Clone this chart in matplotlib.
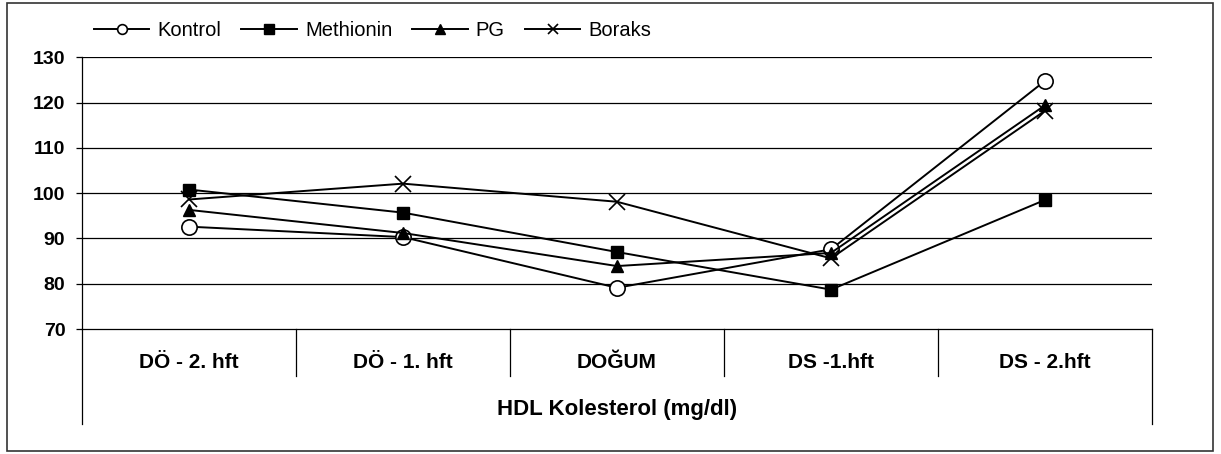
import numpy as np
import matplotlib
matplotlib.use("Agg")
from matplotlib import pyplot as plt
from matplotlib.patches import Rectangle
from matplotlib.transforms import blended_transform_factory

plt.rcParams['font.family'] = ['Liberation Sans', 'DejaVu Sans']

# zaman noktalari ve gruplar
categories = ["DÖ - 2. hft", "DÖ - 1. hft", "DOĞUM", "DS -1.hft", "DS - 2.hft"]
group_label = "HDL Kolesterol (mg/dl)"

kontrol = [92.6, 90.3, 79.1, 87.6, 124.8]
methionin = [100.8, 95.7, 87.0, 78.7, 98.5]
pg = [96.3, 91.2, 83.9, 86.8, 119.4]
boraks = [98.6, 102.1, 98.1, 85.6, 118.2]

W, H = 1221, 454
fig = plt.figure(figsize=(W / 100, H / 100), dpi=100)
ax = fig.add_axes([82 / W, 1 - 329 / H, (1152 - 82) / W, (329 - 57.3) / H])

x = np.arange(len(categories)) + 0.5
lw = 1.4
ax.plot(x, kontrol, color="black", lw=lw, marker="o", ms=11, mfc="white", mec="black", mew=1.2, label="Kontrol", zorder=3)
ax.plot(x, methionin, color="black", lw=lw, marker="s", ms=8, mfc="black", mec="black", label="Methionin", zorder=3)
ax.plot(x, pg, color="black", lw=lw, marker="^", ms=9, mfc="black", mec="black", label="PG", zorder=3)
ax.plot(x, boraks, color="black", lw=lw, marker="x", ms=12, mew=1.2, label="Boraks", zorder=3)

ax.set_xlim(0, len(categories))
ax.set_ylim(70, 130)
ax.set_yticks(np.arange(70, 131, 10))
for v in range(80, 131, 10):
    ax.axhline(v, color="black", lw=0.9, zorder=1)

ax.spines["top"].set_visible(False)
ax.spines["right"].set_visible(False)
ax.spines["left"].set_linewidth(0.9)
ax.spines["bottom"].set_linewidth(0.9)
ax.set_xticks([])
ax.tick_params(axis="y", direction="out", length=4.5, width=0.9, pad=7.5, labelsize=14)
for t in ax.get_yticklabels():
    t.set_fontweight("bold")

# iki seviyeli kategori ekseni
trans = blended_transform_factory(ax.transData, ax.transAxes)
ah = 329 - 57.3
sep_low = -(376 - 329) / ah
out_low = -(424 - 329) / ah
for i in range(1, len(categories)):
    ax.plot([i, i], [0, sep_low], transform=trans, color="black", lw=0.9, clip_on=False)
for i in (0, len(categories)):
    ax.plot([i, i], [0, out_low], transform=trans, color="black", lw=0.9, clip_on=False)
for xi, c in zip(x, categories):
    ax.text(xi, -(362 - 329) / ah, c, transform=trans, ha="center", va="center",
            fontsize=15, fontweight="bold")
ax.text(len(categories) / 2, -(410 - 329) / ah, group_label, transform=trans,
        ha="center", va="center", fontsize=16, fontweight="bold")

leg = fig.legend(loc="center left", bbox_to_anchor=(94 / W, 1 - 31 / H), ncol=4,
                 frameon=False, fontsize=14.5, handlelength=2.75, handletextpad=0.4,
                 columnspacing=1.0, borderpad=0, borderaxespad=0)
for h in leg.legend_handles:
    h.set_markersize(7)

fig.patches.append(Rectangle((7 / W, 3 / H), (1213 - 7) / W, (451 - 3) / H,
                             transform=fig.transFigure, fill=False, lw=1.2,
                             edgecolor="#333333"))

fig.savefig("out.png", dpi=100)
